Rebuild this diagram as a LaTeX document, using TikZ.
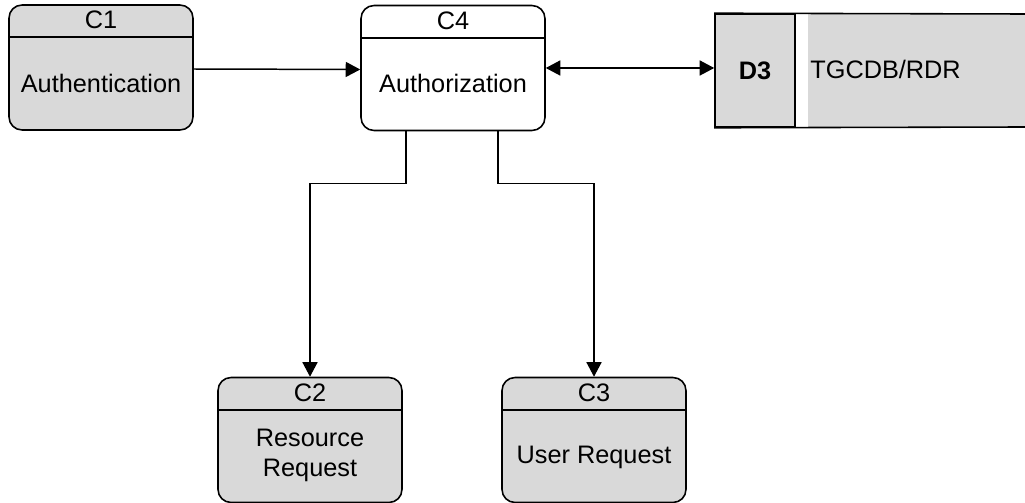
\documentclass[tikz,border=0pt]{standalone}
\usepackage{fontspec}
\setmainfont{Liberation Sans}
\usetikzlibrary{arrows.meta}
\definecolor{boxgray}{HTML}{D9D9D9}

\begin{document}
\begin{tikzpicture}[
    x=0.02cm, y=-0.02cm,
    font=\fontsize{14.4}{17}\selectfont,
    proc/.style={rectangle, draw, rounded corners=0.26cm, minimum width=3.68cm, minimum height=2.5cm, line width=0.9pt, fill=boxgray},
    store/.style={rectangle, draw, minimum width=1.6cm, minimum height=2.26cm, line width=0.9pt, fill=boxgray, font=\fontsize{14.4}{17}\selectfont\bfseries},
    arrow/.style={-{Triangle[length=0.29cm,width=0.3cm]}, line width=0.85pt},
    biarrow/.style={{Triangle[length=0.29cm,width=0.3cm]}-{Triangle[length=0.29cm,width=0.3cm]}, line width=0.85pt}
]
\useasboundingbox (0,0) rectangle (1025,503);

% processes
\node[proc] (c1) at (101,67.5) {};
\node[proc, fill=white] (c4) at (453,68) {};
\node[proc] (c2) at (310,440) {};
\node[proc] (c3) at (594,440) {};

\foreach \p in {c1,c4,c2,c3}
    \draw[line width=0.9pt] ([yshift=-0.66cm]\p.north west) -- ([yshift=-0.66cm]\p.north east);

\node (c1id) at ([yshift=-0.32cm]c1.north) {C1};
\node (c4id) at ([yshift=-0.32cm]c4.north) {C4};
\node (c2id) at ([yshift=-0.32cm]c2.north) {C2};
\node (c3id) at ([yshift=-0.32cm]c3.north) {C3};

\node (c1txt) at ([yshift=-0.31cm]c1.center) {Authentication};
\node (c4txt) at ([yshift=-0.31cm]c4.center) {Authorization};
\node[align=center] (c2txt) at ([yshift=-0.3cm]c2.center) {Resource\\Request};
\node (c3txt) at ([yshift=-0.34cm]c3.center) {User Request};

% data store
\fill[boxgray] (808,14) rectangle (1025,127);
\node[store] (d3) at (755,70.5) {D3};
\draw[line width=0.9pt] (d3.north west) -- (1025,14);
\draw[line width=0.9pt] (d3.south west) -- (1025,127);
\node[anchor=west, inner sep=0pt] (rdr) at (810,69) {TGCDB/RDR};

% flows
\draw[arrow] ([yshift=-0.03cm]c1.east) -- ([yshift=-0.03cm]c4.west);
\draw[biarrow] (c4.east) -- (c4.east -| d3.west);
\draw[arrow] ([xshift=-0.94cm]c4.south) -- ++(0,52) -| (c2.north);
\draw[arrow] ([xshift=0.9cm]c4.south) -- ++(0,52) -| (c3.north);
\end{tikzpicture}
\end{document}
